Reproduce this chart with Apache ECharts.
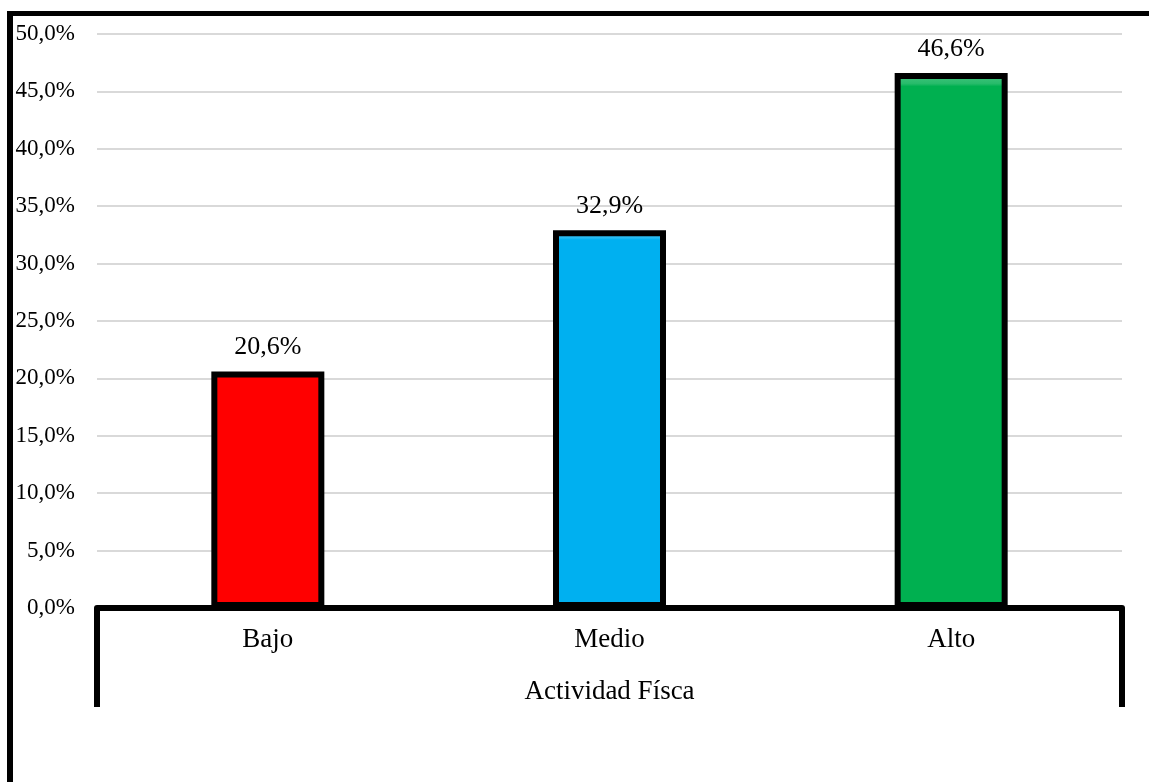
<!DOCTYPE html>
<html>
<head>
<meta charset="utf-8">
<script src="https://cdn.jsdelivr.net/npm/echarts@6/dist/echarts.min.js"></script>
<style>
html,body{margin:0;padding:0;background:#fff;overflow:hidden;}
#chart{position:absolute;left:0;top:0;width:1149px;height:782px;}
#frame{position:absolute;left:7px;top:11px;width:1300px;height:900px;border-top:5px solid #000;border-left:6px solid #000;pointer-events:none;}
</style>
</head>
<body>
<div id="chart"></div>
<div id="frame"></div>
<script>
const categories = ['Bajo', 'Medio', 'Alto'];
const values = [20.6, 32.9, 46.6];
const barColors = ['#FF0000', '#00B0F0', '#00B050'];
const axisTitle = 'Actividad Físca';
const yMin = 0, yMax = 50, yStep = 5;

const fmt = v => v.toFixed(1).replace('.', ',') + '%';
const font = '"Liberation Serif", "Times New Roman", serif';

const chart = echarts.init(document.getElementById('chart'));
chart.setOption({
  animation: false,
  grid: { left: 97, right: 27, top: 34, bottom: 174, containLabel: false },
  xAxis: [
    {
      type: 'category',
      data: categories,
      position: 'bottom',
      axisLine: { show: true, lineStyle: { color: '#000', width: 6 } },
      axisTick: { show: false },
      axisLabel: { color: '#000', fontFamily: font, fontSize: 27, margin: 18 }
    },
    {
      type: 'category',
      data: [axisTitle],
      position: 'bottom',
      offset: 0,
      axisLine: { show: false },
      axisTick: { show: true, length: 99, lineStyle: { color: '#000', width: 6 } },
      axisLabel: { color: '#000', fontFamily: font, fontSize: 27, margin: 70 }
    }
  ],
  yAxis: {
    type: 'value',
    min: yMin, max: yMax, interval: yStep,
    axisLine: { show: false },
    axisTick: { show: false },
    splitLine: { show: true, lineStyle: { color: '#d9d9d9', width: 2 } },
    axisLabel: { color: '#000', fontFamily: font, fontSize: 23, margin: 22, formatter: fmt }
  },
  series: [{
    type: 'bar',
    xAxisIndex: 0,
    barWidth: 113,
    z: 1,
    data: values.map((v, i) => ({
      value: v,
      itemStyle: {
        color: new echarts.graphic.LinearGradient(0, 0, 0, 1, [
          { offset: 0, color: echarts.color.lift(barColors[i], 0.3) },
          { offset: 0.02, color: echarts.color.lift(barColors[i], 0.15) },
          { offset: 0.025, color: barColors[i] },
          { offset: 1, color: barColors[i] }
        ])
      }
    })),
    itemStyle: { borderColor: '#000', borderWidth: 6 },
    label: {
      show: true, position: 'top', distance: 11,
      color: '#000', fontFamily: font, fontSize: 26,
      formatter: p => fmt(p.value)
    }
  }]
});
</script>
</body>
</html>
